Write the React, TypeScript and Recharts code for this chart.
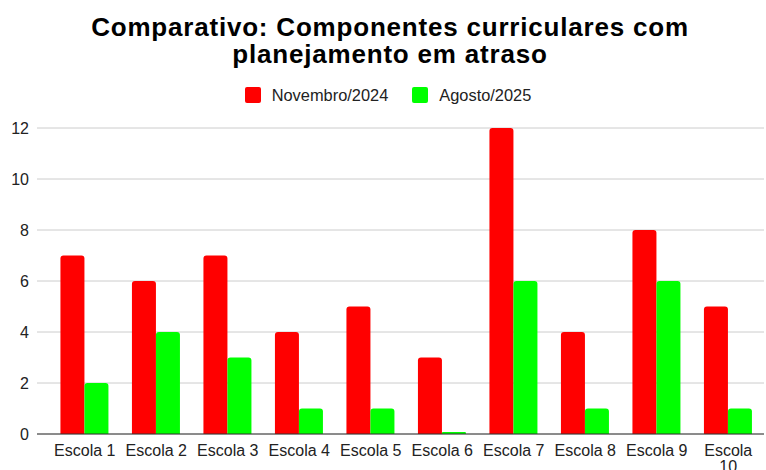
import React from 'react';
import { BarChart, Bar, XAxis, YAxis, CartesianGrid, Legend } from 'recharts';

const escolas = ['Escola 1', 'Escola 2', 'Escola 3', 'Escola 4', 'Escola 5', 'Escola 6', 'Escola 7', 'Escola 8', 'Escola 9', 'Escola 10'];
const novembro2024 = [7, 6, 7, 4, 5, 3, 12, 4, 8, 5];
const agosto2025 = [2, 4, 3, 1, 1, 0, 6, 1, 6, 1];
const yTicks = [0, 2, 4, 6, 8, 10, 12];

const series = [
  { key: 'nov', name: 'Novembro/2024', color: '#ff0000' },
  { key: 'ago', name: 'Agosto/2025', color: '#00ff00' },
];

const data = escolas.map((name, i) => ({ name, nov: novembro2024[i], ago: agosto2025[i] }));

const font = 'Arial, "Liberation Sans", sans-serif';

// long labels (more than 8 chars) wrap onto two lines, like the sheet does
function XTick(props: any) {
  const { x, y, payload } = props;
  const label: string = payload.value;
  const lines = label.length > 8 ? label.split(' ') : [label];
  return (
    <text x={x} y={y + 14} textAnchor="middle" fontSize={16} fill="#222" fontFamily={font}>
      {lines.map((l, i) => (
        <tspan key={i} x={x} dy={i === 0 ? 0 : 16}>
          {l}
        </tspan>
      ))}
    </text>
  );
}

function LegendContent() {
  return (
    <div style={{ display: 'flex', justifyContent: 'center', gap: 24, fontFamily: font, fontSize: 16.4, color: '#222', marginLeft: 10 }}>
      {series.map((s) => (
        <div key={s.key} style={{ display: 'flex', alignItems: 'center', height: 18 }}>
          <span style={{ width: 16, height: 16, background: s.color, borderRadius: 2, marginRight: 11, display: 'inline-block' }} />
          <span>{s.name}</span>
        </div>
      ))}
    </div>
  );
}

export default function App() {
  return (
    <div style={{ position: 'absolute', left: 0, top: 0, width: 766, height: 470, background: '#fff' }}>
      <div
        style={{
          position: 'absolute',
          top: 14,
          left: 7,
          width: 766,
          textAlign: 'center',
          fontFamily: font,
          fontWeight: 'bold',
          fontSize: 26,
          letterSpacing: 0.8,
          lineHeight: '27px',
          color: '#000',
        }}
      >
        Comparativo: Componentes curriculares com
        <br />
        planejamento em atraso
      </div>
      <BarChart
        width={766}
        height={470}
        data={data}
        margin={{ top: 110, right: 2, bottom: 0, left: 0 }}
        barCategoryGap="16%"
        barGap={0}
      >
        <CartesianGrid vertical={false} stroke="#cccccc" />
        <XAxis
          dataKey="name"
          height={36}
          padding={{ left: 12, right: 0 }}
          tick={<XTick />}
          tickLine={false}
          axisLine={{ stroke: '#333', strokeWidth: 1 }}
          interval={0}
        />
        <YAxis
          width={37}
          domain={[0, 12]}
          ticks={yTicks}
          tickLine={false}
          axisLine={false}
          tick={{ fontSize: 16, fill: '#222', fontFamily: font }}
        />
        <Legend verticalAlign="top" content={<LegendContent />} wrapperStyle={{ top: 86, left: 0, width: 766 }} />
        {series.map((s) => (
          <Bar
            key={s.key}
            dataKey={s.key}
            name={s.name}
            fill={s.color}
            radius={[3, 3, 0, 0]}
            minPointSize={2}
            isAnimationActive={false}
          />
        ))}
      </BarChart>
    </div>
  );
}
